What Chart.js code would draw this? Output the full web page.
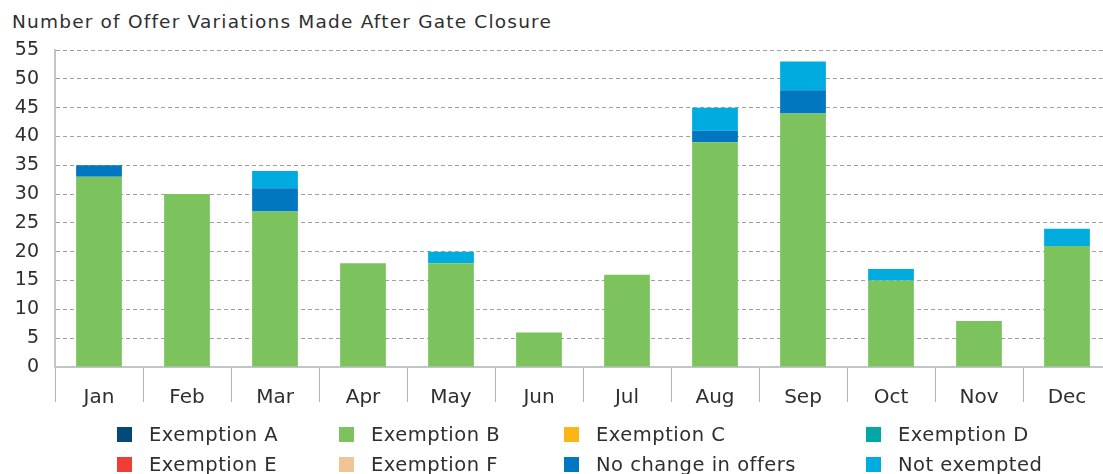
<!DOCTYPE html>
<html lang="en">
<head>
<meta charset="utf-8">
<title>Number of Offer Variations Made After Gate Closure</title>
<script src="https://cdn.jsdelivr.net/npm/chart.js"></script>
<style>
  html, body { margin: 0; padding: 0; background: #fff; overflow: hidden; }
  body { width: 1103px; height: 474px; position: relative; font-family: "DejaVu Sans", sans-serif; color: #2f2f2f; }
  .title { position: absolute; left: 12px; top: 12px; font-size: 18.5px; line-height: 20px; letter-spacing: 1.2px; white-space: nowrap; }
  .chart-box { position: absolute; left: 0; top: 0; width: 1111px; height: 474px; }
  .legend-item { position: absolute; height: 15px; font-size: 19.5px; line-height: 15px; letter-spacing: 0.5px; white-space: nowrap; }
  .legend-item i { position: absolute; left: 0; top: 0; width: 15px; height: 15px; }
  .legend-item span { position: absolute; left: 32px; top: 0; }
</style>
</head>
<body>
  <div class="title">Number of Offer Variations Made After Gate Closure</div>
  <div class="chart-box"><canvas id="chart"></canvas></div>
  <div id="legend"></div>

<script>
  // データ
  var months = ["Jan", "Feb", "Mar", "Apr", "May", "Jun", "Jul", "Aug", "Sep", "Oct", "Nov", "Dec"];
  var exemptionA  = [0, 0, 0, 0, 0, 0, 0, 0, 0, 0, 0, 0];
  var exemptionB  = [33, 30, 27, 18, 18, 6, 16, 39, 44, 15, 8, 21];
  var exemptionC  = [0, 0, 0, 0, 0, 0, 0, 0, 0, 0, 0, 0];
  var exemptionD  = [0, 0, 0, 0, 0, 0, 0, 0, 0, 0, 0, 0];
  var exemptionE  = [0, 0, 0, 0, 0, 0, 0, 0, 0, 0, 0, 0];
  var exemptionF  = [0, 0, 0, 0, 0, 0, 0, 0, 0, 0, 0, 0];
  var noChange    = [2, 0, 4, 0, 0, 0, 0, 2, 4, 0, 0, 0];
  var notExempted = [0, 0, 3, 0, 2, 0, 0, 4, 5, 2, 0, 3];
  var yMax = 55;
  var yStep = 5;

  var textColor = "#2f2f2f";
  var fontFamily = "'DejaVu Sans', sans-serif";
  Chart.defaults.font.family = fontFamily;

  function series(label, values, color) {
    return {
      label: label,
      data: values,
      backgroundColor: color,
      borderWidth: 0,
      barPercentage: 0.52,
      categoryPercentage: 1.0
    };
  }

  var chart = new Chart(document.getElementById("chart"), {
    type: "bar",
    data: {
      labels: months,
      datasets: [
        series("Exemption A", exemptionA, "#004b76"),
        series("Exemption B", exemptionB, "#7dc35d"),
        series("Exemption C", exemptionC, "#fdb515"),
        series("Exemption D", exemptionD, "#00a7a5"),
        series("Exemption E", exemptionE, "#ef3e36"),
        series("Exemption F", exemptionF, "#efc497"),
        series("No change in offers", noChange, "#0077c0"),
        series("Not exempted", notExempted, "#00acdf")
      ]
    },
    options: {
      responsive: true,
      maintainAspectRatio: false,
      animation: false,
      layout: { padding: { top: 50, left: 0, right: 0, bottom: 0 } },
      plugins: {
        legend: { display: false },
        tooltip: { enabled: false }
      },
      scales: {
        x: {
          stacked: true,
          grid: { offset: true, drawOnChartArea: false, drawTicks: true, tickLength: 35, color: "#b3b3b3", lineWidth: 1 },
          border: { display: true, color: "#c4c4c4", width: 2 },
          ticks: { color: textColor, font: { size: 20 }, padding: -16 },
          afterFit: function(scale) { scale.height = 107; }
        },
        y: {
          stacked: true,
          min: 0,
          max: yMax,
          ticks: { stepSize: yStep, color: textColor, font: { size: 19 }, padding: 16 },
          grid: { color: "#a0a0a0", lineWidth: 1, drawTicks: false },
          border: { display: true, color: "#c4c4c4", width: 2, dash: [4, 3] },
          afterFit: function(scale) { scale.width = 55; }
        }
      }
    }
  });

  // 凡例 (4列の表)
  var legendCols = [117, 339, 564, 866];
  var legendRows = [427, 457];
  var items = Chart.defaults.plugins.legend.labels.generateLabels(chart);
  var legendBox = document.getElementById("legend");
  items.forEach(function(item, i) {
    var el = document.createElement("div");
    el.className = "legend-item";
    el.style.left = legendCols[i % 4] + "px";
    el.style.top = legendRows[Math.floor(i / 4)] + "px";
    var sw = document.createElement("i");
    sw.style.background = item.fillStyle;
    var tx = document.createElement("span");
    tx.textContent = item.text;
    el.appendChild(sw);
    el.appendChild(tx);
    legendBox.appendChild(el);
  });
</script>
</body>
</html>
